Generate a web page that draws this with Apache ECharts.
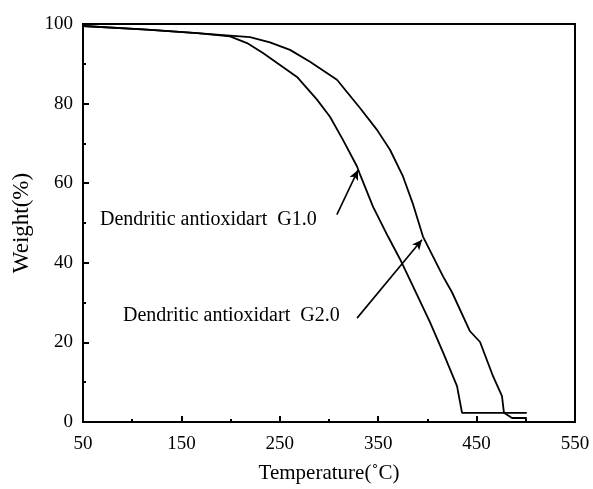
<!DOCTYPE html>
<html>
<head>
<meta charset="utf-8">
<script src="https://cdn.jsdelivr.net/npm/echarts@6/dist/echarts.min.js"></script>
<style>
  html, body { margin: 0; padding: 0; background: #fff; }
  #chart { width: 593px; height: 489px; }
</style>
</head>
<body>
<div id="chart"></div>
<script>
// TGA curves: temperature (°C) vs. residual weight (%)
const g1Temp = [50, 115, 166, 199.4, 216.7, 232.9, 250.2, 267.5, 287.8, 301, 314.2, 328.5, 331.5, 344.7, 360, 372.2, 385.4, 402.6, 415.9, 430.1, 435.2, 501];
const g1Weight = [99.5, 98.6, 97.7, 96.9, 95.2, 92.7, 89.7, 86.7, 81.0, 76.7, 70.9, 64.2, 62.2, 54.1, 46.6, 40.9, 34.1, 25.1, 17.5, 9.0, 2.3, 2.3];

const g2Temp = [50, 115, 166, 199.4, 219.7, 240, 260.4, 280.7, 308.1, 331.5, 348.8, 362, 375.2, 385, 395.5, 415.9, 425, 443.3, 453.5, 466.7, 475.8, 477.8, 486, 501];
const g2Weight = [99.5, 98.6, 97.7, 97.1, 96.7, 95.4, 93.5, 90.5, 86.0, 78.9, 73.4, 68.4, 61.7, 55.0, 46.6, 36.6, 32.6, 22.8, 20.1, 11.5, 6.5, 2.3, 1.0, 1.0];

const xTicks = [50, 150, 250, 350, 450, 550];
const yTicks = [0, 20, 40, 60, 80, 100];

const g1Label = 'Dendritic antioxidart  G1.0';
const g2Label = 'Dendritic antioxidart  G2.0';
// annotation arrows: [tail, head] in data coordinates
const g1Arrow = [[308, 52.1], [329.5, 63.3]];
const g2Arrow = [[328.5, 26.1], [394.5, 45.8]];
// left edge / vertical centre of annotation texts, data coordinates
const g1TextAt = [67.3, 50.9];
const g2TextAt = [90.7, 26.6];

const zip = (xs, ys) => xs.map((x, i) => [x, ys[i]]);
const serif = '"Liberation Serif", "DejaVu Serif", serif';

const chart = echarts.init(document.getElementById('chart'));

const axisCommon = {
  axisLine: { show: true, lineStyle: { color: '#000', width: 2 } },
  axisTick: { show: true, inside: true, length: 6, lineStyle: { color: '#000', width: 2 } },
  minorTick: { show: true, splitNumber: 2, length: 3, lineStyle: { color: '#000', width: 2 } },
  splitLine: { show: false },
  axisLabel: { color: '#000', fontFamily: serif, fontSize: 19 }
};

chart.setOption({
  animation: false,
  backgroundColor: '#fff',
  grid: {
    left: 83, top: 24, right: 18, bottom: 66,
    show: true, borderColor: '#000', borderWidth: 2
  },
  xAxis: Object.assign({}, axisCommon, {
    type: 'value',
    min: xTicks[0], max: xTicks[xTicks.length - 1], interval: 100,
    name: 'Temperature(˚C)',
    nameLocation: 'middle', nameGap: 41,
    nameTextStyle: { color: '#000', fontFamily: serif, fontSize: 21 },
    axisLabel: Object.assign({}, axisCommon.axisLabel, { margin: 13 })
  }),
  yAxis: Object.assign({}, axisCommon, {
    type: 'value',
    min: yTicks[0], max: yTicks[yTicks.length - 1], interval: 20,
    name: 'Weight(%)',
    nameLocation: 'middle', nameGap: 45,
    nameTextStyle: { color: '#000', fontFamily: serif, fontSize: 23 },
    axisLabel: Object.assign({}, axisCommon.axisLabel, { margin: 10 })
  }),
  series: [
    {
      name: 'G1.0', type: 'line', data: zip(g1Temp, g1Weight),
      showSymbol: false, smooth: false,
      lineStyle: { color: '#000', width: 1.8 }
    },
    {
      name: 'G2.0', type: 'line', data: zip(g2Temp, g2Weight),
      showSymbol: false, smooth: false,
      lineStyle: { color: '#000', width: 1.8 },
      markLine: {
        silent: true,
        symbol: ['none', 'arrow'], symbolSize: [7, 10],
        label: { show: false },
        lineStyle: { color: '#000', width: 1.6, type: 'solid' },
        data: [
          [{ coord: g1Arrow[0] }, { coord: g1Arrow[1] }],
          [{ coord: g2Arrow[0] }, { coord: g2Arrow[1] }]
        ]
      }
    }
  ]
});

// annotation texts placed through the axes' own scales
const p1 = chart.convertToPixel({ gridIndex: 0 }, g1TextAt);
const p2 = chart.convertToPixel({ gridIndex: 0 }, g2TextAt);
const textStyle = { fill: '#000', font: '20px ' + serif, textVerticalAlign: 'middle' };
chart.setOption({
  graphic: [
    { type: 'text', x: p1[0], y: p1[1], style: Object.assign({ text: g1Label }, textStyle) },
    { type: 'text', x: p2[0], y: p2[1], style: Object.assign({ text: g2Label }, textStyle) }
  ]
});
</script>
</body>
</html>
